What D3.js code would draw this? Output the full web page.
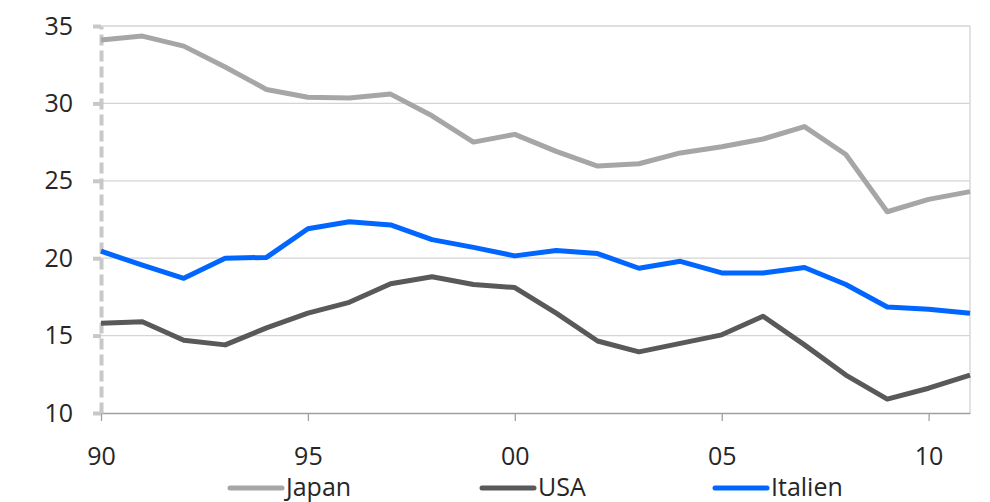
<!DOCTYPE html>
<html>
<head>
<meta charset="utf-8">
<script src="https://cdn.jsdelivr.net/npm/d3@7"></script>
<style>
  body { margin: 0; background: #fff; }
  svg { display: block; font-family: "Open Sans", sans-serif; }
</style>
</head>
<body>
<svg width="990" height="502"></svg>
<script>
// data
var years = d3.range(1990, 2012);
var japan = [34.1, 34.35, 33.7, 32.35, 30.9, 30.4, 30.35, 30.6, 29.2, 27.5, 28.0,
             26.9, 25.95, 26.1, 26.8, 27.2, 27.7, 28.5, 26.7, 23.0, 23.8, 24.3];
var usa = [15.8, 15.9, 14.7, 14.4, 15.5, 16.45, 17.15, 18.35, 18.8, 18.3, 18.1,
           16.45, 14.65, 13.95, 14.5, 15.05, 16.25, 14.4, 12.45, 10.9, 11.6, 12.45];
var italien = [20.45, 19.55, 18.7, 20.0, 20.05, 21.9, 22.35, 22.15, 21.2, 20.7, 20.15,
               20.5, 20.3, 19.35, 19.8, 19.05, 19.05, 19.4, 18.3, 16.85, 16.7, 16.45];
var yTicks = [10, 15, 20, 25, 30, 35];
var xTicks = [1990, 1995, 2000, 2005, 2010];
var seriesNames = ["Japan", "USA", "Italien"];
var seriesColors = ["#a6a6a6", "#595959", "#0066ff"];

var svg = d3.select("svg"),
    plotLeft = 101, plotRight = 970, plotTop = 26, plotBottom = 413;

var x = d3.scaleLinear().domain([1990, 2011]).range([plotLeft, plotRight]);
var y = d3.scaleLinear().domain([10, 35]).range([plotBottom, plotTop]);

// horizontal gridlines
svg.append("g")
    .selectAll("line")
    .data(yTicks.filter(function(d) { return d > 10; }))
    .enter().append("line")
    .attr("x1", plotLeft).attr("x2", plotRight)
    .attr("y1", function(d) { return y(d); })
    .attr("y2", function(d) { return y(d); })
    .style("stroke", "#d4d4d4")
    .style("stroke-width", 1.3);

// right border
svg.append("line")
    .attr("x1", plotRight).attr("x2", plotRight)
    .attr("y1", plotTop).attr("y2", plotBottom)
    .style("stroke", "#d9d9d9")
    .style("stroke-width", 1.5);

// x axis
var xAxis = svg.append("g")
    .attr("transform", "translate(0," + plotBottom + ")")
    .call(d3.axisBottom(x).tickValues(xTicks).tickSize(8).tickSizeOuter(0).tickPadding(26)
        .tickFormat(function(d) { return d3.format("02")(d % 100); }));
xAxis.select(".domain").style("stroke", "#a0a0a0").style("stroke-width", 1.5);
xAxis.selectAll(".tick line").style("stroke", "#a0a0a0").style("stroke-width", 1.3);
xAxis.selectAll(".tick text")
    .style("font-size", "25px").style("fill", "#262626")
    .style("font-family", "'Open Sans', sans-serif");

// y axis (dashed)
var yAxis = svg.append("g")
    .attr("transform", "translate(" + plotLeft + ",0)")
    .call(d3.axisLeft(y).tickValues(yTicks).tickSize(8).tickPadding(20).tickSizeOuter(0));
yAxis.select(".domain")
    .style("stroke", "#c8c8c8").style("stroke-width", 4)
    .style("stroke-dasharray", "11,5");
yAxis.selectAll(".tick line").style("stroke", "#c8c8c8").style("stroke-width", 4);
yAxis.selectAll(".tick text")
    .style("font-size", "25px").style("fill", "#262626")
    .style("font-family", "'Open Sans', sans-serif");

// lines
var line = d3.line()
    .x(function(d, i) { return x(years[i]); })
    .y(function(d) { return y(d); });

[japan, usa, italien].forEach(function(s, i) {
    svg.append("path")
        .datum(s)
        .attr("d", line)
        .style("fill", "none")
        .style("stroke", seriesColors[i])
        .style("stroke-width", 5)
        .style("stroke-linejoin", "round");
});

// legend
var legendX = [228, 480, 713];
var legend = svg.append("g")
    .selectAll("g")
    .data(seriesNames)
    .enter().append("g")
    .attr("transform", function(d, i) { return "translate(" + legendX[i] + ",488)"; });
legend.append("line")
    .attr("x1", 2).attr("x2", 54)
    .style("stroke", function(d, i) { return seriesColors[i]; })
    .style("stroke-width", 5)
    .style("stroke-linecap", "round");
legend.append("text")
    .attr("x", 58).attr("y", 8)
    .text(function(d) { return d; })
    .style("font-size", "25px").style("fill", "#262626");
</script>
</body>
</html>
